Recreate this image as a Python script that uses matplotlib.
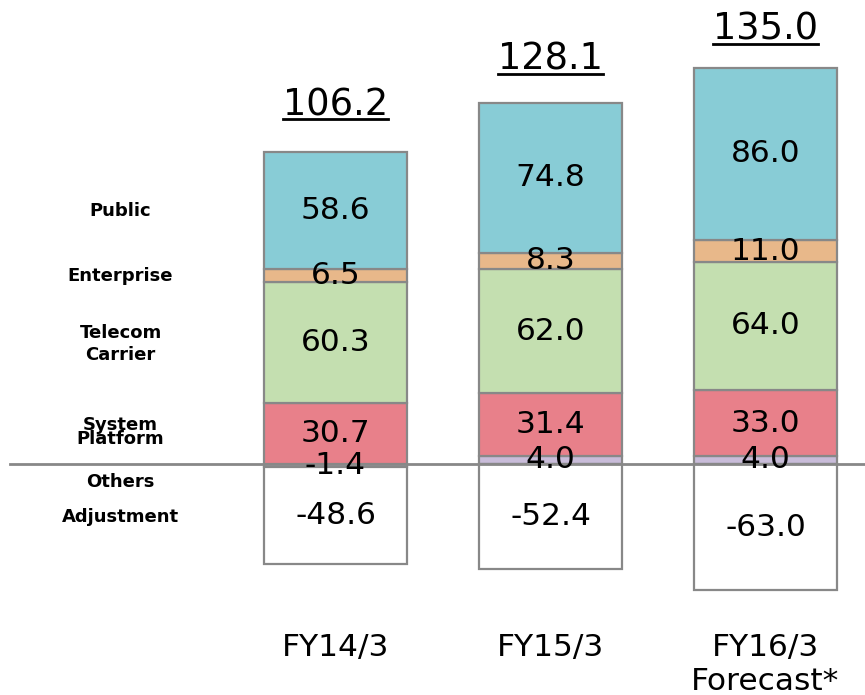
import numpy as np
import matplotlib.pyplot as plt
from matplotlib.lines import Line2D

categories = ['FY14/3', 'FY15/3', 'FY16/3\nForecast*']
others = [-1.4, 4.0, 4.0]
system_platform = [30.7, 31.4, 33.0]
telecom = [60.3, 62.0, 64.0]
enterprise = [6.5, 8.3, 11.0]
public = [58.6, 74.8, 86.0]
adjustment = [-48.6, -52.4, -63.0]
totals = [106.2, 128.1, 135.0]

series = [
    ('Others', others, '#c9bcd9'),
    ('System\nPlatform', system_platform, '#e8808a'),
    ('Telecom\nCarrier', telecom, '#c4dfb0'),
    ('Enterprise', enterprise, '#e8b88a'),
    ('Public', public, '#88ccd6'),
    ('Adjustment', adjustment, '#ffffff'),
]

fig = plt.figure(figsize=(8.65, 6.95), dpi=100)
ax = fig.add_axes([0, 0, 1, 1])
ax.set_xlim(-1.5605, 2.4628)
ax.set_ylim(-115.5, 232)
ax.axis('off')

x = np.arange(len(categories))
w = 0.665
pos_bottom = np.zeros(len(x))
neg_bottom = np.zeros(len(x))

for name, vals, col in series:
    vals = np.array(vals)
    bottom = np.where(vals >= 0, pos_bottom, neg_bottom)
    ax.bar(x, vals, w, bottom=bottom, color=col, edgecolor='#888888', linewidth=1.6, zorder=2)
    for i, v in enumerate(vals):
        ax.text(x[i], bottom[i] + v / 2, '%.1f' % v, ha='center', va='center',
                fontsize=22.5, color='black', zorder=4)
    pos_bottom = np.where(vals >= 0, pos_bottom + vals, pos_bottom)
    neg_bottom = np.where(vals < 0, neg_bottom + vals, neg_bottom)

ax.axhline(0, xmin=10 / 865, xmax=1, color='#888888', linewidth=2, zorder=3)

# row labels on the left
ax.text(-1.0, 126.5, 'Public', ha='center', va='center', fontsize=13, fontweight='bold')
ax.text(-1.0, 94, 'Enterprise', ha='center', va='center', fontsize=13, fontweight='bold')
ax.text(-1.0, 60, 'Telecom\nCarrier', ha='center', va='center', fontsize=13,
        fontweight='bold', linespacing=1.3)
ax.text(-1.0, 16, 'System\nPlatform', ha='center', va='center', fontsize=13,
        fontweight='bold', linespacing=0.72)
ax.text(-1.0, -9, 'Others', ha='center', va='center', fontsize=13, fontweight='bold')
ax.text(-1.0, -26.5, 'Adjustment', ha='center', va='center', fontsize=13, fontweight='bold')

gaps = [18, 16.5, 14]
tot_texts = []
for i, t in enumerate(totals):
    tt = ax.text(x[i], pos_bottom[i] + gaps[i], '%.1f' % t, ha='center', va='baseline', fontsize=26.5)
    tot_texts.append(tt)

for i, c in enumerate(categories):
    ax.text(x[i], -84.5, c, ha='center', va='top', fontsize=22.5, linespacing=1.2)

# underline totals
fig.canvas.draw()
r = fig.canvas.get_renderer()
for tt in tot_texts:
    bb = tt.get_window_extent(r)
    xb, yb = tt.get_transform().transform(tt.get_position())
    fig.add_artist(Line2D([bb.x0, bb.x1], [yb - 3.5, yb - 3.5], transform=None,
                          color='black', linewidth=2))

plt.savefig('out.png', dpi=100)
